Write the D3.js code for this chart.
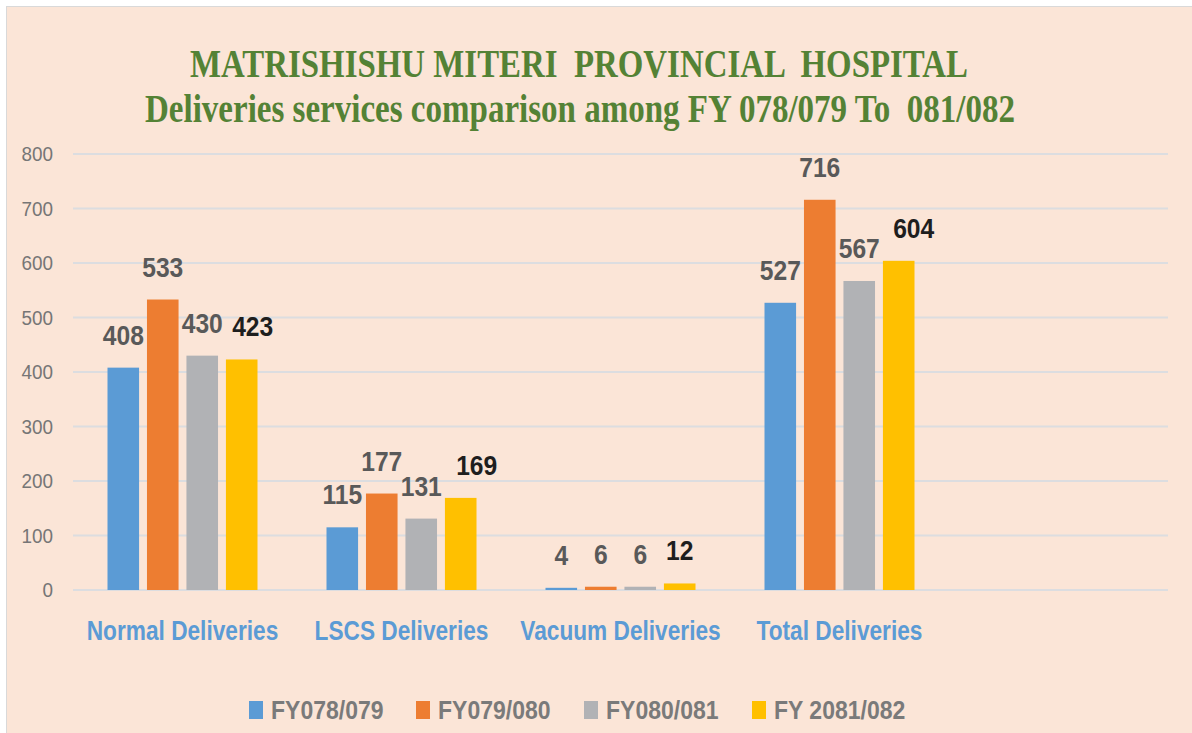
<!DOCTYPE html>
<html>
<head>
<meta charset="utf-8">
<script src="https://cdn.jsdelivr.net/npm/d3@7"></script>
<style>
  body { margin: 0; background: #fff; }
  svg { display: block; }
</style>
</head>
<body>
<svg width="1192" height="733"></svg>
<script>
var categories = ["Normal Deliveries", "LSCS Deliveries", "Vacuum Deliveries", "Total Deliveries", ""]
var seriesNames = ["FY078/079", "FY079/080", "FY080/081", "FY 2081/082"]
var fy078 = [408, 115, 4, 527, null]
var fy079 = [533, 177, 6, 716, null]
var fy080 = [430, 131, 6, 567, null]
var fy081 = [423, 169, 12, 604, null]
var yTicks = [0, 100, 200, 300, 400, 500, 600, 700, 800]

var seriesValues = [fy078, fy079, fy080, fy081]
var COLORS = ["#5b9bd5", "#ed7d31", "#b1b2b5", "#ffc000"]
var LABEL_COLORS = ["#595959", "#595959", "#595959", "#1e1e1e"]
// the last series' labels were dragged right in the original
var LABEL_NUDGE = [[0, 0, 0, 0], [0, 0, 0, 0], [0, 0, 0, 0], [11, 16, 0, 15]]
var FONT = "'Liberation Sans', Arial, sans-serif"

var svg = d3.select("svg")

// squeeze text horizontally, the original font is a narrow one
function place(x, y, k) {
  return "translate(" + x + "," + y + ") scale(" + k + ",1)"
}

// background panel
svg.append("rect")
    .attr("x", 6.5).attr("y", 6.5)
    .attr("width", 1190).attr("height", 730)
    .attr("fill", "#fbe5d7")
    .attr("stroke", "#d9d9d9")

// title
var title = svg.append("g")
    .attr("font-family", "'Liberation Serif', 'Times New Roman', serif")
    .attr("font-weight", "bold")
    .attr("fill", "#548235")
    .attr("text-anchor", "middle")

title.append("text")
    .attr("x", 579).attr("y", 77)
    .attr("font-size", 39)
    .attr("textLength", 778).attr("lengthAdjust", "spacingAndGlyphs")
    .attr("xml:space", "preserve")
    .text("MATRISHISHU MITERI  PROVINCIAL  HOSPITAL")

title.append("text")
    .attr("x", 580).attr("y", 122)
    .attr("font-size", 39)
    .attr("textLength", 870).attr("lengthAdjust", "spacingAndGlyphs")
    .attr("xml:space", "preserve")
    .text("Deliveries services comparison among FY 078/079 To  081/082")

var x0 = d3.scaleBand()
    .domain(categories)
    .range([73, 1168])

var x1 = d3.scaleBand()
    .domain(seriesNames)
    .range([0, x0.bandwidth()])
    .paddingInner(0.2)
    .paddingOuter(0.874)

var y = d3.scaleLinear()
    .domain([0, 800])
    .range([590, 154])

// gridlines
svg.append("g")
  .selectAll("line")
  .data(yTicks)
  .join("line")
    .attr("x1", 73).attr("x2", 1168)
    .attr("y1", d => y(d)).attr("y2", d => y(d))
    .attr("stroke", "#dcdde0")
    .attr("stroke-width", 2)

// y axis labels
svg.append("g")
  .selectAll("text")
  .data(yTicks)
  .join("text")
    .attr("transform", d => place(53, y(d), 0.9))
    .attr("dy", "0.35em")
    .attr("text-anchor", "end")
    .attr("font-family", FONT)
    .attr("font-size", 21)
    .attr("fill", "#767676")
    .text(d => d)

// bars
var groups = svg.append("g")
  .selectAll("g")
  .data(seriesNames)
  .join("g")
    .attr("fill", (d, i) => COLORS[i])

function rows(s, i) {
  return categories.map((c, j) => ({ cat: c, ser: s, si: i, ci: j, v: seriesValues[i][j] }))
                   .filter(d => d.v != null)
}

groups.selectAll("rect")
  .data(rows)
  .join("rect")
    .attr("x", d => x0(d.cat) + x1(d.ser))
    .attr("y", d => y(d.v))
    .attr("width", x1.bandwidth())
    .attr("height", d => y(0) - y(d.v))

// data labels
groups.selectAll("text")
  .data(rows)
  .join("text")
    .attr("transform", d => place(x0(d.cat) + x1(d.ser) + x1.bandwidth() / 2 + LABEL_NUDGE[d.si][d.ci],
                                  y(d.v) - 23, 0.88))
    .attr("text-anchor", "middle")
    .attr("font-family", FONT)
    .attr("font-weight", "bold")
    .attr("font-size", 28)
    .attr("fill", d => LABEL_COLORS[d.si])
    .text(d => d.v)

// category labels
svg.append("g")
  .selectAll("text")
  .data(categories)
  .join("text")
    .attr("transform", d => place(x0(d) + x0.bandwidth() / 2, 640, 0.84))
    .attr("text-anchor", "middle")
    .attr("font-family", FONT)
    .attr("font-weight", "bold")
    .attr("font-size", 27)
    .attr("fill", "#5b9bd5")
    .text(d => d)

// legend
var legendX = [249, 416, 584, 752]
var legend = svg.append("g")
  .selectAll("g")
  .data(seriesNames)
  .join("g")
    .attr("transform", (d, i) => "translate(" + legendX[i] + ",701)")

legend.append("rect")
    .attr("width", 14).attr("height", 18)
    .attr("fill", (d, i) => COLORS[i])

legend.append("text")
    .attr("transform", place(22, 18, 0.92))
    .attr("font-family", FONT)
    .attr("font-weight", "bold")
    .attr("font-size", 25)
    .attr("fill", "#7a7a7a")
    .text(d => d)
</script>
</body>
</html>
